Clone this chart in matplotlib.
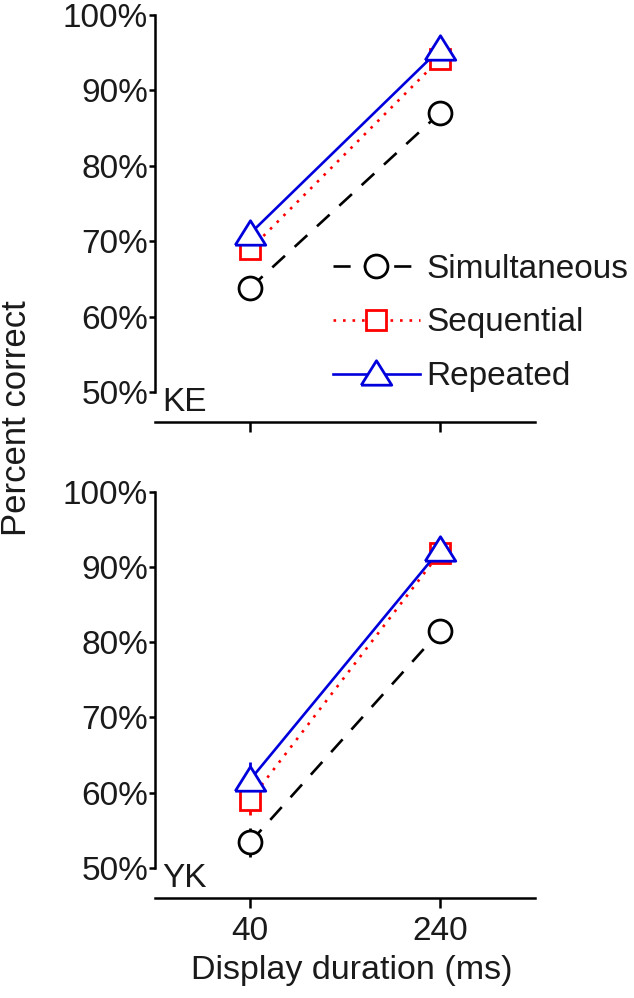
import matplotlib
matplotlib.use("Agg")
import matplotlib.pyplot as plt
import numpy as np

plt.rcParams['font.family'] = ['Liberation Sans', 'DejaVu Sans']

# ---- data ----
durations = ["40", "240"]
series = ["Simultaneous", "Sequential", "Repeated"]
ke_sim = [63.8, 87.0]
ke_seq = [68.9, 94.2]
ke_rep = [71.0, 95.5]
yk_sim = [53.4, 81.5]
yk_seq = [59.0, 91.9]
yk_rep = [61.7, 92.3]
ke_sim_err = [1.5, 1.6]
ke_seq_err = [1.3, 0.5]
ke_rep_err = [0.8, 0.5]
yk_sim_err = [1.9, 0.5]
yk_seq_err = [2.0, 0.5]
yk_rep_err = [2.4, 0.5]
yticks = [50, 60, 70, 80, 90, 100]
ytick_labels = ["50%", "60%", "70%", "80%", "90%", "100%"]
panels = ["KE", "YK"]

W, H = 634, 998
fig = plt.figure(figsize=(W / 100, H / 100), dpi=100)
txt = '#1a1a1a'
FS = 24

tri = [(-1, -0.7), (1, -0.7), (0, 0.9), (-1, -0.7)]
styles = [
    dict(color='black', ls=(0, (6.5, 5)), marker='o', ms=16.5),
    dict(color='#ff0000', ls=(0, (1, 2.6)), marker='s', ms=14),
    dict(color='#0000dd', ls='-', marker=tri, ms=22),
]

def px_axes(x0, x1, ytop, ybot):
    return fig.add_axes([x0 / W, 1 - ybot / H, (x1 - x0) / W, (ybot - ytop) / H])

# pixel geometry: (y of 100%, y of 50%, y of x-axis)
geo = [(15, 392, 421.7), (491.7, 868, 897.7)]
data = [
    ([ke_sim, ke_seq, ke_rep], [ke_sim_err, ke_seq_err, ke_rep_err]),
    ([yk_sim, yk_seq, yk_rep], [yk_sim_err, yk_seq_err, yk_rep_err]),
]

for i, ((y100, y50, yax), (vals, errs)) in enumerate(zip(geo, data)):
    ppu = (y50 - y100) / 50.0
    lo = 50 - (yax - y50) / ppu
    hi = 100.5
    ytop = y100 - 0.5 * ppu
    ax = px_axes(155, 535, ytop, yax)
    x = np.arange(len(durations))
    handles = []
    for v, e, st, name in zip(vals, errs, styles, series):
        ax.errorbar(x, v, yerr=e, fmt='none', ecolor=st['color'], elinewidth=2.0,
                    capsize=0, zorder=2, clip_on=False)
        h, = ax.plot(x, v, color=st['color'], ls=st['ls'], lw=1.9,
                     marker=st['marker'], ms=st['ms'], mfc='white',
                     mec=st['color'], mew=2.0, zorder=3, clip_on=False,
                     label=name)
        handles.append(h)
    ax.set_xlim(-0.5, 1.5)
    ax.set_ylim(lo, hi)
    ax.set_yticks(yticks)
    ax.set_yticklabels(ytick_labels)
    ax.set_xticks(x)
    if i == 1:
        ax.set_xticklabels(durations)
    else:
        ax.set_xticklabels([])
    for s in ['top', 'right']:
        ax.spines[s].set_visible(False)
    ax.spines['left'].set_bounds(50, 100)
    ax.spines['left'].set_linewidth(1.8)
    ax.spines['bottom'].set_linewidth(1.8)
    ax.patch.set_visible(False)
    ax.tick_params(axis='y', direction='out', length=4, width=1.8,
                   labelsize=FS, labelcolor=txt, pad=1)
    ax.tick_params(axis='x', direction='out', length=7, width=1.8,
                   labelsize=FS, labelcolor=txt, pad=6)
    ax.text(162 / W, 1 - (yax - 4) / H, panels[i], transform=fig.transFigure,
            fontsize=FS, color=txt, ha='left', va='bottom')
    if i == 0:
        fig.legend(handles=handles, loc='center left',
                   bbox_to_anchor=(333 / W, 1 - 323 / H),
                   bbox_transform=fig.transFigure, frameon=False,
                   fontsize=FS, handlelength=2.6, handletextpad=0.2,
                   labelspacing=0.69, borderpad=0, borderaxespad=0,
                   labelcolor=txt)

fig.text(0.5 / W, 1 - 418 / H, "Percent correct", rotation=90, fontsize=25,
         color=txt, ha='left', va='center')
fig.text(352 / W, 1 - 971 / H, "Display duration (ms)", fontsize=24.5,
         color=txt, ha='center', va='center')

fig.savefig("out.png", dpi=100)
